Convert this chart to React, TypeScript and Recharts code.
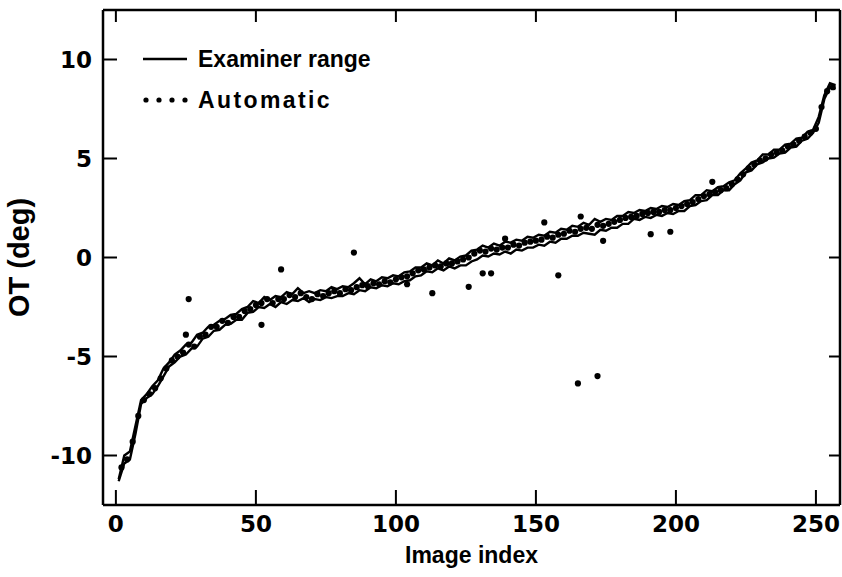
import { ComposedChart, Line, Scatter, XAxis, YAxis, Legend } from "recharts";

// examiner range, upper and lower bound, images 1, 3, 5 ... 257
const EXAM_HIGH = [
  -11.2, -10.0, -9.8, -8.5, -7.2, -6.9, -6.5, -6.2, -5.6, -5.3,
  -4.9, -4.7, -4.4, -4.3, -3.9, -3.8, -3.5, -3.4, -3.2, -3.1,
  -2.9, -2.85, -2.6, -2.5, -2.2, -2.3, -2.0, -2.15, -1.95, -2.0,
  -1.75, -1.85, -1.55, -1.8, -1.7, -1.8, -1.65, -1.7, -1.5, -1.6,
  -1.45, -1.5, -1.3, -1.05, -1.35, -1.1, -1.2, -1.0, -1.05, -0.9,
  -0.95, -0.75, -0.7, -0.5, -0.5, -0.3, -0.4, -0.15, -0.3, -0.05,
  -0.15, 0.05, 0.1, 0.35, 0.4, 0.6, 0.5, 0.7, 0.6, 0.8,
  0.75, 0.9, 0.85, 1.05, 1.0, 1.15, 1.1, 1.3, 1.25, 1.45,
  1.4, 1.6, 1.55, 1.75, 1.65, 1.95, 1.8, 1.95, 1.9, 2.1,
  2.1, 2.3, 2.25, 2.4, 2.35, 2.5, 2.45, 2.6, 2.55, 2.7,
  2.65, 2.85, 2.9, 3.15, 3.15, 3.4, 3.35, 3.55, 3.6, 3.8,
  3.9, 4.25, 4.5, 4.8, 4.9, 5.2, 5.2, 5.45, 5.45, 5.7,
  5.75, 6.0, 6.05, 6.35, 6.45, 7.1, 8.2, 8.8, 8.7,
];
const EXAM_LOW = [
  -11.3, -10.4, -10.2, -8.9, -7.4, -7.1, -6.9, -6.5, -6.0, -5.5,
  -5.3, -5.0, -4.9, -4.6, -4.5, -4.1, -4.0, -3.7, -3.65, -3.4,
  -3.35, -3.15, -3.15, -2.8, -2.75, -2.5, -2.55, -2.35, -2.5, -2.25,
  -2.35, -2.15, -2.2, -2.05, -2.25, -2.1, -2.15, -2.0, -2.05, -1.95,
  -1.95, -1.8, -1.85, -1.65, -1.7, -1.5, -1.55, -1.4, -1.45, -1.3,
  -1.35, -1.2, -1.15, -0.95, -0.9, -0.7, -0.75, -0.55, -0.65, -0.45,
  -0.55, -0.4, -0.4, -0.2, -0.1, 0.1, 0.05, 0.2, 0.15, 0.3,
  0.2, 0.4, 0.35, 0.5, 0.5, 0.65, 0.6, 0.8, 0.75, 0.95,
  0.95, 1.1, 1.1, 1.25, 1.2, 1.15, 1.4, 1.35, 1.5, 1.5,
  1.7, 1.7, 1.95, 1.9, 2.05, 2.0, 2.15, 2.1, 2.25, 2.2,
  2.35, 2.35, 2.6, 2.65, 2.85, 2.9, 3.15, 3.15, 3.4, 3.4,
  3.7, 3.9, 4.3, 4.4, 4.7, 4.8, 5.0, 5.05, 5.25, 5.3,
  5.55, 5.6, 5.9, 6.0, 6.3, 6.8, 8.0, 8.6, 8.5,
];
// automatic estimate, images 2, 4, 6 ... 256
const AUTO = [
  -10.6, -10.2, -9.3, -8.0, -7.2, -6.9, -6.6, -6.1, -5.6, -5.2,
  -5.0, -4.8, -4.4, -4.5, -4.0, -3.9, -3.5, -3.5, -3.2, -3.3,
  -3.0, -3.0, -2.7, -2.6, -2.4, -2.3, -2.1, -2.3, -2.1, -2.1,
  -1.9, -2.0, -1.8, -2.0, -2.1, -1.85, -1.95, -1.8, -1.7, -1.8,
  -1.6, -1.65, -1.5, -1.4, -1.45, -1.3, -1.35, -1.2, -1.25, -1.1,
  -1.0, -0.95, -0.8, -0.65, -0.6, -0.5, -0.4, -0.45, -0.3, -0.3,
  -0.2, -0.1, 0.0, 0.2, 0.35, 0.3, 0.45, 0.4, 0.5, 0.5,
  0.65, 0.6, 0.75, 0.8, 0.85, 0.9, 1.05, 1.0, 1.15, 1.2,
  1.35, 1.3, 1.45, 1.5, 1.45, 1.65, 1.6, 1.7, 1.8, 1.9,
  2.0, 2.05, 2.1, 2.2, 2.25, 2.3, 2.3, 2.4, 2.4, 2.5,
  2.6, 2.7, 2.8, 2.95, 3.1, 3.2, 3.3, 3.4, 3.5, 3.7,
  3.95, 4.2, 4.5, 4.7, 4.9, 5.0, 5.2, 5.3, 5.4, 5.6,
  5.7, 5.9, 6.1, 6.3, 6.5, 7.6, 8.4, 8.6,
];
// automatic points that fall off the examiner band
const OUTLIER_X = [25, 26, 52, 59, 85, 104, 113, 126, 131, 134, 139, 153, 158, 165, 166, 172, 174, 191, 198, 213];
const OUTLIER_Y = [-3.9, -2.1, -3.4, -0.6, 0.25, -1.35, -1.8, -1.48, -0.8, -0.8, 0.95, 1.77, -0.9, -6.36, 2.07, -5.99, 0.84, 1.18, 1.3, 3.82];

const X_TICKS = [0, 50, 100, 150, 200, 250];
const Y_TICKS = [-10, -5, 0, 5, 10];

const highData = EXAM_HIGH.map((v, i) => ({ x: 1 + i * 2, y: v }));
const lowData = EXAM_LOW.map((v, i) => ({ x: 1 + i * 2, y: v }));
const autoData = AUTO.map((v, i) => ({ x: 2 + i * 2, y: v })).concat(
  OUTLIER_X.map((x, i) => ({ x, y: OUTLIER_Y[i] }))
);

// plot box edges (chart is fixed size)
const LEFT = 103;
const RIGHT = 840;
const TOP = 10;
const BOTTOM = 505;

const WORD = "'Liberation Sans', Arial, sans-serif";
const DIGIT = "'DejaVu Sans', sans-serif";
const frame = { stroke: "#000", strokeWidth: 2.5 };

// ticks point inward, like the original frame
const BottomTick = ({ x, payload }: any) => (
  <g>
    <line x1={x} x2={x} y1={BOTTOM} y2={BOTTOM - 15} stroke="#000" strokeWidth={2} />
    <text x={x} y={532} textAnchor="middle" fontFamily={DIGIT} fontWeight="bold" fontSize={23} fill="#000">
      {payload.value}
    </text>
  </g>
);
const TopTick = ({ x }: any) => (
  <line x1={x} x2={x} y1={TOP} y2={TOP + 12} stroke="#000" strokeWidth={2} />
);
const LeftTick = ({ y, payload }: any) => (
  <g>
    <line x1={LEFT} x2={LEFT + 14} y1={y} y2={y} stroke="#000" strokeWidth={2} />
    <text x={92} y={y} dy={8} textAnchor="end" fontFamily={DIGIT} fontWeight="bold" fontSize={23} fill="#000">
      {payload.value}
    </text>
  </g>
);
const RightTick = ({ y }: any) => (
  <line x1={RIGHT - 11} x2={RIGHT} y1={y} y2={y} stroke="#000" strokeWidth={2} />
);

const Dot = (p: any) => <circle cx={p.cx} cy={p.cy} r={3.1} fill="#000" />;

const LegendBox = () => (
  <svg width={260} height={80}>
    <line x1={3} y1={19} x2={47} y2={19} stroke="#000" strokeWidth={2.5} />
    <text x={58} y={19} dominantBaseline="central" fontFamily={WORD} fontWeight="bold" fontSize={23}>
      Examiner range
    </text>
    {[6, 19, 32, 45].map((cx) => (
      <circle key={cx} cx={cx} cy={60} r={2.6} fill="#000" />
    ))}
    <text x={58} y={60} dominantBaseline="central" fontFamily={WORD} fontWeight="bold" fontSize={23} letterSpacing={2.4}>
      Automatic
    </text>
  </svg>
);

export default function App() {
  return (
    <div style={{ position: "absolute", left: 0, top: 0, width: 842, height: 577, background: "#fff" }}>
      <ComposedChart width={842} height={577} margin={{ top: 0, right: 0, bottom: 0, left: 0 }}>
        <XAxis
          xAxisId="bottom"
          type="number"
          dataKey="x"
          domain={[-4.6, 258.6]}
          ticks={X_TICKS}
          allowDataOverflow
          height={72}
          axisLine={frame}
          tickLine={false}
          tick={BottomTick}
          label={{
            value: "Image index",
            position: "insideBottom",
            offset: 14,
            style: { fill: "#000", fontFamily: WORD, fontWeight: "bold", fontSize: 23 },
          }}
        />
        <XAxis
          xAxisId="top"
          orientation="top"
          type="number"
          dataKey="x"
          domain={[-4.6, 258.6]}
          ticks={X_TICKS}
          allowDataOverflow
          height={10}
          axisLine={frame}
          tickLine={false}
          tick={TopTick}
        />
        <YAxis
          yAxisId="left"
          type="number"
          dataKey="y"
          domain={[-12.5, 12.5]}
          ticks={Y_TICKS}
          allowDataOverflow
          width={103}
          axisLine={frame}
          tickLine={false}
          tick={LeftTick}
          label={{
            value: "OT (deg)",
            angle: -90,
            position: "insideLeft",
            offset: 19,
            style: { textAnchor: "middle", fill: "#000", fontFamily: WORD, fontWeight: "bold", fontSize: 29 },
          }}
        />
        <YAxis
          yAxisId="right"
          orientation="right"
          type="number"
          dataKey="y"
          domain={[-12.5, 12.5]}
          ticks={Y_TICKS}
          allowDataOverflow
          width={2}
          axisLine={frame}
          tickLine={false}
          tick={RightTick}
        />
        <Legend
          layout="horizontal"
          verticalAlign="middle"
          align="center"
          content={LegendBox}
          wrapperStyle={{ left: 140, top: 40, width: 260, height: 80 }}
        />
        <Line
          xAxisId="bottom"
          yAxisId="left"
          data={highData}
          dataKey="y"
          type="linear"
          stroke="#000"
          strokeWidth={2.4}
          dot={false}
          isAnimationActive={false}
        />
        <Line
          xAxisId="bottom"
          yAxisId="left"
          data={lowData}
          dataKey="y"
          type="linear"
          stroke="#000"
          strokeWidth={2.4}
          dot={false}
          isAnimationActive={false}
        />
        <Scatter
          xAxisId="bottom"
          yAxisId="left"
          data={autoData}
          dataKey="y"
          fill="#000"
          shape={Dot}
          isAnimationActive={false}
        />
      </ComposedChart>
    </div>
  );
}
